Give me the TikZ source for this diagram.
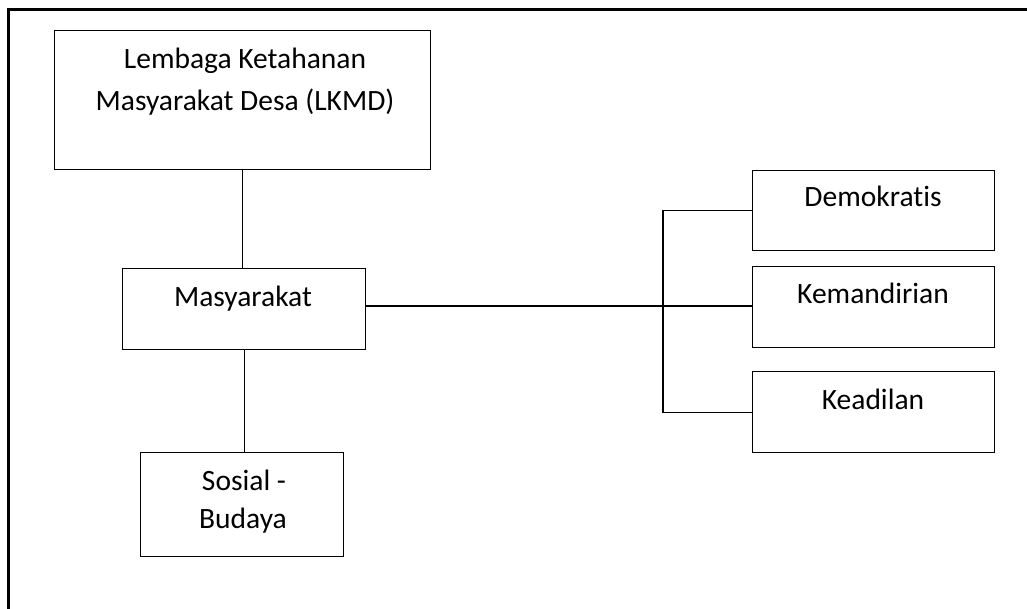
\documentclass[tikz,border=0pt]{standalone}
\usepackage{fontspec}
\setmainfont[Ligatures=NoCommon]{Carlito}
\begin{document}
\begin{tikzpicture}[x=1pt,y=-1pt,
  box/.style={draw=black,line width=1.2pt,inner sep=0pt,anchor=north west},
  txt/.style={anchor=base,inner sep=0pt,font=\fontsize{29.5}{35}\selectfont},
  conn/.style={draw=black,line width=1.2pt},
  frame/.style={draw=black,line width=2.6pt}]
\useasboundingbox (0,0) rectangle (1027,609);
\draw[frame] (8.5,609) -- (8.5,9.5) -- (1027,9.5);
% boxes
\node[box,minimum width=376pt,minimum height=139pt] (lkmd) at (54,30) {};
\node[box,minimum width=243pt,minimum height=81pt] (masy) at (122,268) {};
\node[box,minimum width=203pt,minimum height=104pt] (sos) at (140,452) {};
\node[box,minimum width=242pt,minimum height=80pt] (dem) at (752,170) {};
\node[box,minimum width=242pt,minimum height=81pt] (kem) at (752,266) {};
\node[box,minimum width=242pt,minimum height=81pt] (kea) at (752,371) {};
% texts
\node[txt] (lkmd1) at (245,69) {Lembaga Ketahanan};
\node[txt] (lkmd2) at (245,111) {Masyarakat Desa (LKMD)};
\node[txt] (masyt) at (243,307) {Masyarakat};
\node[txt] (sos1) at (244,490) {Sosial -};
\node[txt] (sos2) at (243,528) {Budaya};
\node[txt] (demt) at (873,207) {Demokratis};
\node[txt] (kemt) at (873,304) {Kemandirian};
\node[txt] (keat) at (873,409) {Keadilan};
% connectors
\coordinate (j) at (663,306);
\draw[conn] (lkmd.south) -- (lkmd.south |- masy.north);
\draw[conn] (masy.south) -- (masy.south |- sos.north);
\draw[conn] (masy.east |- j) -- (kem.west |- j);
\draw[conn] (dem.west) -| (j) |- (kea.west);
\end{tikzpicture}
\end{document}
